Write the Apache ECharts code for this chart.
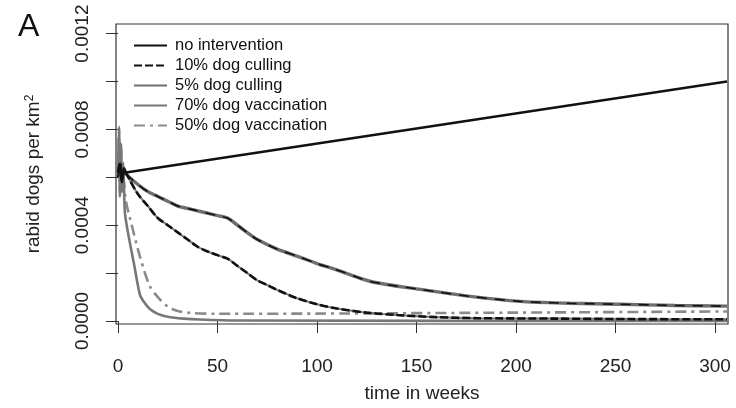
<!DOCTYPE html>
<html>
<head>
<meta charset="utf-8">
<script src="https://cdn.jsdelivr.net/npm/echarts@6/dist/echarts.min.js"></script>
<style>
  body { margin: 0; background: #fff; }
  #main { width: 736px; height: 408px; }
</style>
</head>
<body>
<div id="main"></div>
<script>
// values (rabid dogs per km2 vs week)
var xTicks = [0, 50, 100, 150, 200, 250, 300];
var yTicks = [0, 0.0002, 0.0004, 0.0006, 0.0008, 0.0010, 0.0012];
var yLabels = [0, 0.0004, 0.0008, 0.0012];

var noneWeeks = [0, 1, 2, 3, 4, 306];
var noneValues = [0.00060, 0.00066, 0.00058, 0.00064, 0.00062, 0.00100];

var cull10Weeks = [0, 1, 2, 3, 4.5, 10, 15, 20, 25, 30, 35, 40, 45, 50, 55, 60, 65, 70, 75, 80, 90, 100, 110, 125, 140, 160, 180, 220, 260, 306];
var cull10Values = [0.00062, 0.00066, 0.00058, 0.00063, 0.00061, 0.00053, 0.00048, 0.00043, 0.00040, 0.00037, 0.00034, 0.00031, 0.00029, 0.000275, 0.00026, 0.00023, 0.00020, 0.00017, 0.00015, 0.00013, 0.000095, 0.00007, 0.000052, 0.000035, 0.000025, 0.000016, 0.000012, 0.00001, 0.000008, 0.000007];

var cull5Weeks = [0, 1, 2, 3, 4.5, 10, 15, 20, 25, 30, 35, 40, 45, 50, 55, 60, 66, 70, 80, 91, 100, 108, 127, 152, 177, 202, 227, 252, 280, 306];
var cull5Values = [0.00062, 0.00065, 0.00059, 0.00063, 0.00061, 0.00057, 0.00054, 0.00052, 0.00050, 0.00048, 0.00047, 0.00046, 0.00045, 0.00044, 0.00043, 0.00040, 0.000363, 0.00034, 0.00030, 0.000268, 0.00024, 0.000219, 0.000165, 0.000132, 0.000103, 0.000082, 0.000074, 0.00007, 0.000065, 0.000062];

var vacc70Weeks = [0, 0.5, 1, 1.5, 2, 2.5, 3, 3.5, 5, 8, 11, 13, 16, 20, 25, 33, 41, 60, 306];
var vacc70Values = [0.00062, 0.00081, 0.00052, 0.00074, 0.00054, 0.00066, 0.00056, 0.00045, 0.00037, 0.00024, 0.00011, 0.00008, 0.00005, 0.00003, 0.000018, 0.00001, 0.000006, 0.000002, 0];

var vacc50Weeks = [0, 0.5, 1, 1.5, 2, 2.5, 3, 4, 6, 11, 16, 20, 25, 30, 36, 50, 100, 200, 306];
var vacc50Values = [0.00062, 0.00079, 0.00054, 0.00072, 0.00056, 0.00065, 0.00058, 0.00050, 0.00043, 0.00027, 0.000145, 0.0001, 0.00006, 0.000042, 0.000034, 0.00003, 0.000031, 0.000035, 0.00004];

function pairs(w, v) {
  var out = [];
  for (var i = 0; i < w.length; i++) out.push([w[i], v[i]]);
  return out;
}

var font = 'Liberation Sans, Arial, sans-serif';
var chart = echarts.init(document.getElementById('main'));

chart.setOption({
  backgroundColor: '#fff',
  animation: false,
  graphic: [{
    type: 'text', left: 18, top: 11,
    style: { text: 'A', font: '32px ' + font, fill: '#111' }
  }],
  grid: { left: 116, right: 8, top: 24, bottom: 80, show: true, borderColor: '#333', borderWidth: 1.2 },
  legend: {
    orient: 'vertical', left: 128, top: 32,
    itemWidth: 33, itemHeight: 14, itemGap: 3,
    itemStyle: { opacity: 0 },
    data: ['no intervention', '10% dog culling', '5% dog culling', '70% dog vaccination', '50% dog vaccination'],
    formatter: function (n) { return '{a|' + n + '}'; },
    textStyle: { color: '#111', fontFamily: font, fontSize: 16.5, rich: { a: { fontSize: 16.5, lineHeight: 18, fontFamily: font, color: '#111', padding: [0, 0, 0, 3] } } }
  },
  xAxis: {
    type: 'value', min: -1, max: 306.5,
    name: 'time in weeks', nameLocation: 'middle', nameGap: 60,
    nameTextStyle: { fontFamily: font, fontSize: 19, color: '#222' },
    axisLine: { show: false },
    axisTick: { show: true, length: 12, lineStyle: { color: '#333' }, customValues: xTicks },
    axisLabel: { fontFamily: font, fontSize: 19, color: '#222', margin: 33, customValues: xTicks },
    splitLine: { show: false }
  },
  yAxis: {
    type: 'value', min: -0.0000125, max: 0.00124,
    name: 'rabid dogs per km{s|2}', nameLocation: 'middle', nameGap: 72,
    nameTextStyle: { fontFamily: font, fontSize: 19, color: '#222', rich: { s: { fontSize: 12, fontFamily: font, color: '#222', verticalAlign: 'top', padding: [0, 0, 8, 0] } } },
    axisLine: { show: false },
    axisTick: { show: true, length: 12, lineStyle: { color: '#333' }, customValues: yTicks },
    axisLabel: {
      fontFamily: font, fontSize: 19, color: '#222', rotate: 90, margin: 24,
      customValues: yLabels,
      formatter: function (v) { return v.toFixed(4); }
    },
    splitLine: { show: false }
  },
  series: [
    {
      name: '50% dog vaccination', type: 'line', symbol: 'none', smooth: 0.3,
      data: pairs(vacc50Weeks, vacc50Values),
      lineStyle: { color: '#8a8a8a', width: 2.6, type: [11, 5, 3, 5] }, itemStyle: { color: '#8a8a8a' }
    },
    {
      name: '70% dog vaccination', type: 'line', symbol: 'none', smooth: 0.3,
      data: pairs(vacc70Weeks, vacc70Values),
      lineStyle: { color: '#777', width: 2.6 }, itemStyle: { color: '#777' }
    },
    {
      name: '5% dog culling', type: 'line', symbol: 'none', smooth: 0.3,
      data: pairs(cull5Weeks, cull5Values),
      lineStyle: { color: '#6e6e6e', width: 3.4 }, itemStyle: { color: '#6e6e6e' }
    },
    {
      name: '5% dog culling dashes', type: 'line', symbol: 'none', smooth: 0.3,
      data: pairs(cull5Weeks, cull5Values),
      lineStyle: { color: '#111', width: 1.6, type: [10, 8] }, itemStyle: { color: '#111' }
    },
    {
      name: '10% dog culling under', type: 'line', symbol: 'none', smooth: 0.3,
      data: pairs(cull10Weeks, cull10Values),
      lineStyle: { color: '#777', width: 2 }, itemStyle: { color: '#777' }
    },
    {
      name: '10% dog culling', type: 'line', symbol: 'none', smooth: 0.3,
      data: pairs(cull10Weeks, cull10Values),
      lineStyle: { color: '#111', width: 2.6, type: [8, 3] }, itemStyle: { color: '#111' }
    },
    {
      name: 'no intervention', type: 'line', symbol: 'none',
      data: pairs(noneWeeks, noneValues),
      lineStyle: { color: '#111', width: 2.4 }, itemStyle: { color: '#111' }
    }
  ]
});
</script>
</body>
</html>
